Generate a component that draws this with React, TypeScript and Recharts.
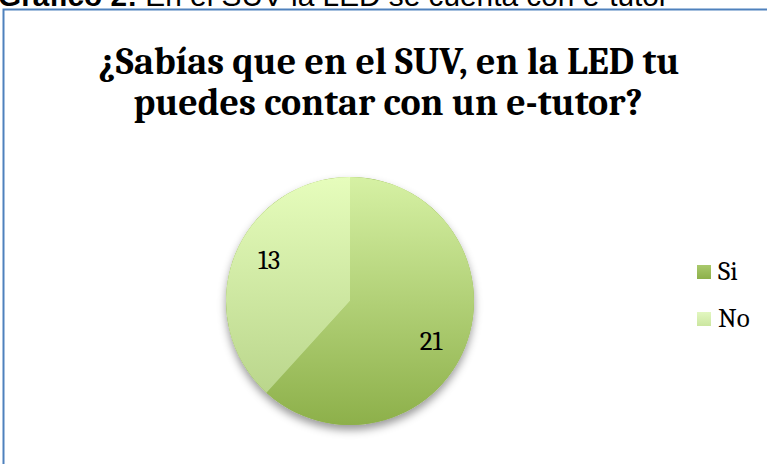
import { PieChart, Pie, Cell, Legend } from "recharts";

// reference: Excel pie, "Gráfico 2"
const caption = ["Gráfico 2:", " En el SUV la LED se cuenta con e-tutor"];
const titleLines = ["¿Sabías que en el SUV, en la LED tu", "puedes contar con un e-tutor?"];
const categories = ["Si", "No"];
const values = [21, 13];

const gradients = [
  { id: "gradSi", top: "#d6f1a4", bottom: "#8db04a" },
  { id: "gradNo", top: "#e6fdbc", bottom: "#bad68c" },
];
const legendColors = [
  { top: "#a9c96c", bottom: "#8db04a" },
  { top: "#e2f7c0", bottom: "#cbe6a0" },
];

const data = categories.map((name, i) => ({ name, value: values[i] }));
const total = values.reduce((s, v) => s + v, 0);
const shadowData = [{ name: "all", value: total }];

const RADIAN = Math.PI / 180;
const serif = "Cambria, 'Liberation Serif', 'DejaVu Serif', serif";

// Excel's "best fit" puts the numbers a bit further up/down than the mid angle
function renderLabel(props: any) {
  const { cx, cy, midAngle, outerRadius, value } = props;
  const x = cx + outerRadius * 0.7 * Math.cos(-midAngle * RADIAN);
  const y = cy + outerRadius * 0.91 * Math.sin(-midAngle * RADIAN);
  return (
    <text
      x={x}
      y={y}
      fill="#000"
      fontFamily={serif}
      fontSize={27}
      textAnchor="middle"
      dominantBaseline="central"
    >
      {value}
    </text>
  );
}

function LegendContent() {
  return (
    <div style={{ fontFamily: serif, fontSize: 27, color: "#000", lineHeight: "30px" }}>
      {categories.map((name, i) => (
        <div
          key={name}
          style={{ display: "flex", alignItems: "center", height: 47 }}
        >
          <div
            style={{
              width: 14,
              height: 14,
              marginRight: 7,
              background: `linear-gradient(${legendColors[i].top}, ${legendColors[i].bottom})`,
            }}
          />
          <span>{name}</span>
        </div>
      ))}
    </div>
  );
}

export default function App() {
  return (
    <div
      style={{
        position: "absolute",
        left: 0,
        top: 0,
        width: 767,
        height: 464,
        overflow: "hidden",
        background: "#fff",
      }}
    >
      <svg
        width={767}
        height={464}
        style={{ position: "absolute", left: 0, top: 0 }}
      >
        {/* caption of the document, mostly cropped off */}
        <text x={-2} y={6} fontFamily="'Liberation Sans', Arial, sans-serif" fontSize={29.8} fill="#000">
          <tspan fontWeight="bold">{caption[0]}</tspan>
          <tspan>{caption[1]}</tspan>
        </text>
        {/* chart frame */}
        <rect x={3.5} y={9.5} width={820} height={520} fill="none" stroke="#4f81bd" strokeWidth={2} />
        <text
          x={389}
          y={74}
          textAnchor="middle"
          fontFamily={serif}
          fontWeight="bold"
          fontSize={38}
          fill="#000"
        >
          {titleLines[0]}
        </text>
        <text
          x={388}
          y={115}
          textAnchor="middle"
          fontFamily={serif}
          fontWeight="bold"
          fontSize={38}
          fill="#000"
        >
          {titleLines[1]}
        </text>
      </svg>
      <div style={{ position: "absolute", left: 0, top: 0 }}>
        <PieChart width={767} height={464}>
          <defs>
            {gradients.map((g) => (
              <linearGradient key={g.id} id={g.id} x1="0" y1="0" x2="0" y2="1">
                <stop offset="0%" stopColor={g.top} />
                <stop offset="100%" stopColor={g.bottom} />
              </linearGradient>
            ))}
            <filter id="pieShadow" x="-20%" y="-20%" width="140%" height="140%">
              <feDropShadow dx="0" dy="5" stdDeviation="4" floodColor="#000" floodOpacity="0.4" />
            </filter>
          </defs>
          <Pie
            data={shadowData}
            dataKey="value"
            cx={345}
            cy={296}
            outerRadius={124}
            startAngle={90}
            endAngle={-270}
            stroke="none"
            legendType="none"
            isAnimationActive={false}
          >
            <Cell fill="#8db04a" filter="url(#pieShadow)" />
          </Pie>
          <Pie
            data={data}
            dataKey="value"
            nameKey="name"
            cx={345}
            cy={296}
            outerRadius={124}
            startAngle={90}
            endAngle={-270}
            stroke="none"
            label={renderLabel}
            labelLine={false}
            isAnimationActive={false}
          >
            {data.map((d, i) => (
              <Cell key={d.name} fill={`url(#${gradients[i].id})`} />
            ))}
          </Pie>
          <Legend
            content={<LegendContent />}
            wrapperStyle={{ position: "absolute", left: 697, top: 248, width: 70 }}
          />
        </PieChart>
      </div>
    </div>
  );
}
